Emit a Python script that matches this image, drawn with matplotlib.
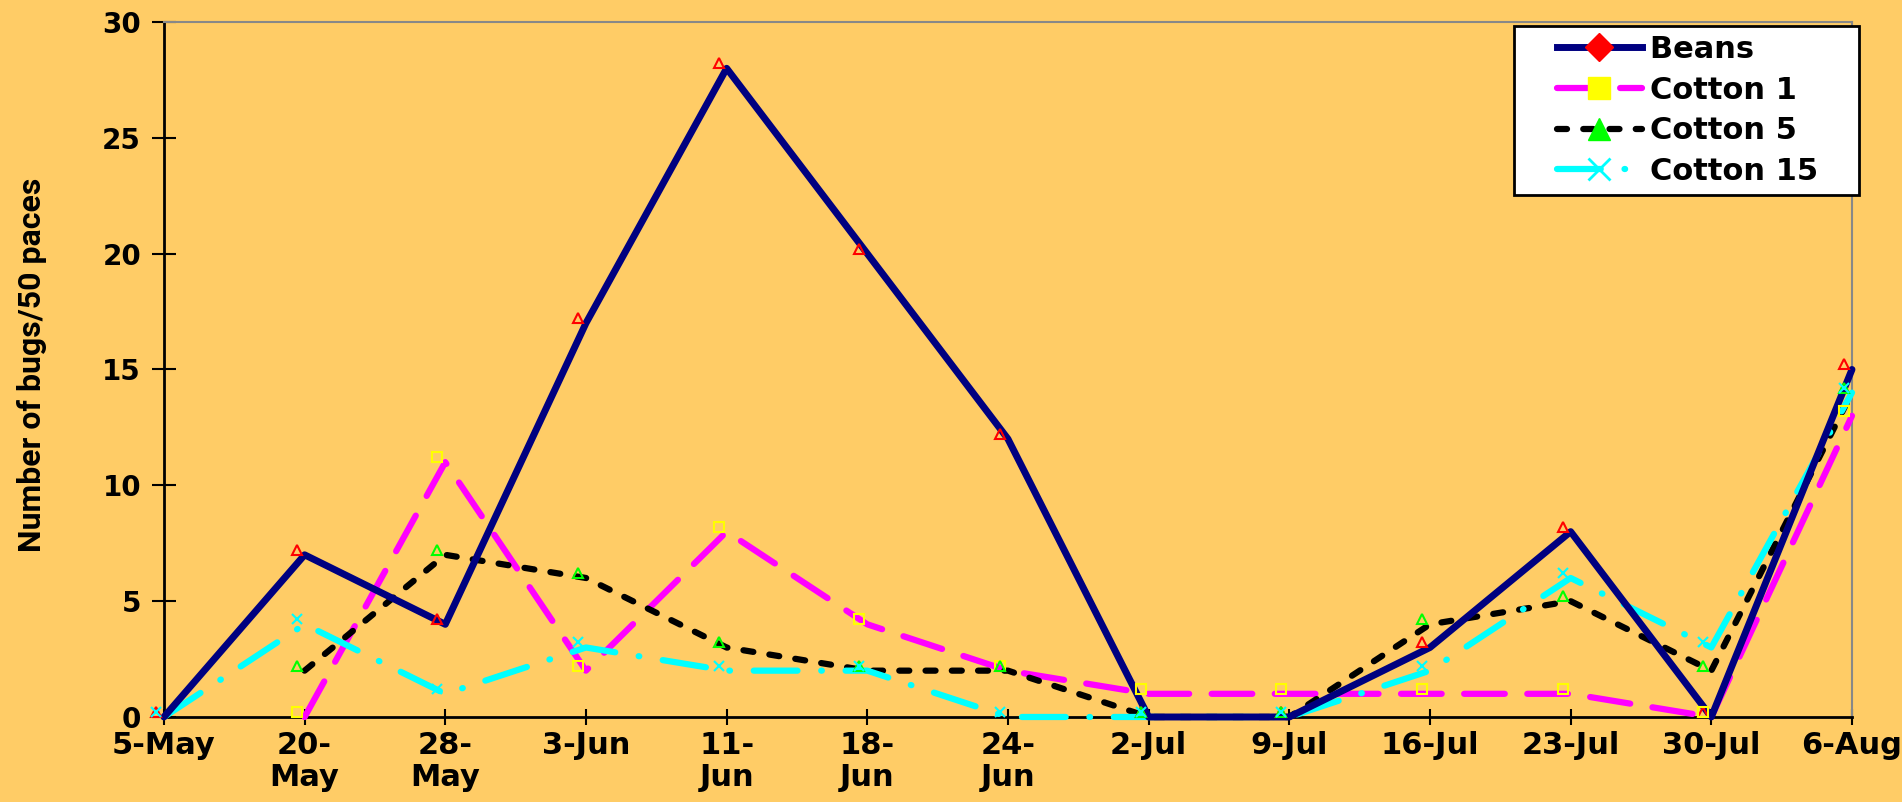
import numpy as np
import matplotlib
matplotlib.use('Agg')
import matplotlib.pyplot as plt
import matplotlib.transforms as mtransforms
from matplotlib.lines import Line2D
from matplotlib.legend_handler import HandlerLine2D

# data
dates = ['5-May', '20-\nMay', '28-\nMay', '3-Jun', '11-\nJun', '18-\nJun', '24-\nJun',
         '2-Jul', '9-Jul', '16-Jul', '23-Jul', '30-Jul', '6-Aug']
beans = [0, 7, 4, 17, 28, 20, 12, 0, 0, 3, 8, 0, 15]
cotton1 = [np.nan, 0, 11, 2, 8, 4, 2, 1, 1, 1, 1, 0, 13]
cotton5 = [np.nan, 2, 7, 6, 3, 2, 2, 0, 0, 4, 5, 2, 14]
cotton15 = [0, 4, 1, 3, 2, 2, 0, 0, 0, 2, 6, 3, 14]
series_names = ['Beans', 'Cotton 1', 'Cotton 5', 'Cotton 15']
yticks = [0, 5, 10, 15, 20, 25, 30]

bg = '#FFCC66'
fig = plt.figure(figsize=(19.02, 8.02), dpi=100, facecolor=bg)
ax = fig.add_axes([0.0862, 0.106, 0.8875, 0.8666], facecolor=bg)
x = np.arange(len(dates))

d1 = (6.5, 3.6)
d5 = (1.6, 2.6)
d15 = (7.0, 3.8, 0.1, 3.8)
ax.plot(x, beans, color='#000080', lw=5, solid_capstyle='round', solid_joinstyle='round', clip_on=False, zorder=5)
ax.plot(x, cotton1, color='#FF00FF', lw=4.5, dashes=d1, dash_capstyle='round', clip_on=False, zorder=3)
ax.plot(x, cotton5, color='black', lw=4.5, dashes=d5, dash_capstyle='round', clip_on=False, zorder=4)
ax.plot(x, cotton15, color='#00FFFF', lw=4.5, dashes=d15, dash_capstyle='round', clip_on=False, zorder=4)

# small hollow markers, drawn a little up-left of the points like in the original
trans = mtransforms.offset_copy(ax.transData, fig=fig, x=-8, y=5, units='dots')
mk = dict(ls='none', ms=7, mfc='none', mew=1.5, transform=trans, clip_on=False, zorder=6)
ax.plot(x, beans, marker='^', mec='red', **mk)
ax.plot(x, cotton1, marker='s', mec='#FFFF00', **mk)
ax.plot(x, cotton5, marker='^', mec='#00FF00', **mk)
ax.plot(x, cotton15, marker='x', mec='#00FFFF', **mk)

ax.set_xlim(0, len(dates) - 1)
ax.set_ylim(0, 30)
ax.set_xticks(x)
ax.set_xticklabels(dates, fontsize=22, fontweight='bold', family='DejaVu Sans', linespacing=1.15)
ax.set_yticks(yticks)
ax.set_yticklabels([str(v) for v in yticks], fontsize=20, fontweight='bold', family='DejaVu Sans')
ax.tick_params(axis='x', direction='inout', length=12, width=1.5, pad=4)
ax.tick_params(axis='y', direction='inout', length=17, width=1.5, pad=8)

for s in ['left', 'bottom']:
    ax.spines[s].set_linewidth(2)
    ax.spines[s].set_color('black')
for s in ['top', 'right']:
    ax.spines[s].set_linewidth(1.5)
    ax.spines[s].set_color('#888888')

fig.text(0.017, 0.545, 'Number of bugs/50 paces', rotation=90, va='center', ha='center',
         fontsize=23, fontweight='bold', family=['Roboto', 'DejaVu Sans'])

handles = [
    Line2D([], [], color='#000080', lw=5, marker='D', ms=14, mfc='red', mec='red'),
    Line2D([], [], color='#FF00FF', lw=4.5, dashes=d1, dash_capstyle='round', marker='s', ms=16, mfc='#FFFF00', mec='#FFFF00'),
    Line2D([], [], color='black', lw=4.5, dashes=d5, dash_capstyle='round', marker='^', ms=16, mfc='#00FF00', mec='#00FF00'),
    Line2D([], [], color='#00FFFF', lw=4.5, dashes=d15, dash_capstyle='round', marker='x', ms=16, mec='#00FFFF', mew=2),
]
leg = fig.legend(handles, [n + '   ' for n in series_names],
                 loc='upper right', bbox_to_anchor=(0.9774, 0.9676), borderaxespad=0,
                 prop={'family': 'DejaVu Sans', 'weight': 'bold', 'size': 22},
                 handlelength=3.9, handletextpad=0.25, labelspacing=0.38, borderpad=0.3,
                 handler_map={Line2D: HandlerLine2D(xpad=1.1)},
                 fancybox=False, framealpha=1, edgecolor='black', facecolor='white')
leg.get_frame().set_linewidth(2)

fig.savefig('out.png', dpi=100, facecolor=bg)
